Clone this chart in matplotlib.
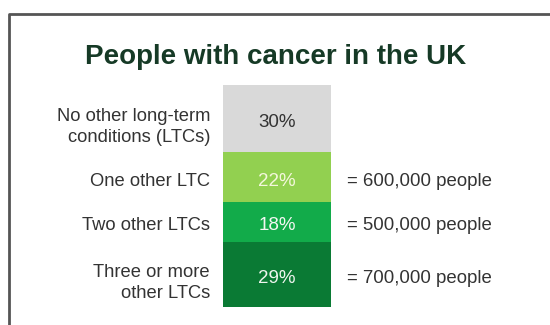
import matplotlib.pyplot as plt
import numpy as np
from matplotlib.transforms import blended_transform_factory, offset_copy

plt.rcParams['font.family'] = ['Liberation Sans', 'DejaVu Sans']

# share of people with cancer by number of other long-term conditions
categories = ['No other long-term\nconditions (LTCs)', 'One other LTC',
              'Two other LTCs', 'Three or more\nother LTCs']
shares = [30, 22, 18, 29]
people = ['', '= 600,000 people', '= 500,000 people', '= 700,000 people']
colors = ['#d9d9d9', '#92d050', '#12ab4a', '#0a7a34']
pct_colors = ['#333333', '#f4f7dc', '#f2f7f2', '#eef5ee']

fig = plt.figure(figsize=(5.5, 3.25), dpi=100)

# frame line along top and left edge
frame = fig.add_axes([0, 0, 1, 1])
frame.set_xlim(0, 550)
frame.set_ylim(325, 0)
frame.axis('off')
frame.plot([9, 9, 560], [330, 14, 14], color='#555555', lw=2, solid_capstyle='butt')

frame.text(276, 57, 'People with cancer in the UK', ha='center', va='center',
           fontsize=20, fontweight='bold', color='#163a26')

# single stacked column
ax = fig.add_axes([223 / 550, (325 - 307) / 325, 108 / 550, 222 / 325])
bottoms = np.concatenate([[0], np.cumsum(shares)[:-1]])
ax.bar(0, shares, bottom=bottoms, width=1.0, color=colors, linewidth=0)
ax.set_xlim(-0.5, 0.5)
ax.set_ylim(sum(shares), 0)
ax.axis('off')

base = blended_transform_factory(ax.transAxes, ax.transData)
trans = offset_copy(base, fig=fig, y=-3, units='points')
trans2 = offset_copy(base, fig=fig, y=-6, units='points')
for cat, val, bot, ppl, tc in zip(categories, shares, bottoms, people, pct_colors):
    mid = bot + val / 2
    ax.text(0.5, mid, f'{val}%', transform=trans, ha='center', va='center',
            fontsize=13.5, color=tc)
    ax.text(-0.12, mid, cat, transform=trans2 if '\n' in cat else trans,
            ha='right', va='center', fontsize=13.2, color='#333333',
            linespacing=1.35, multialignment='right')
    if ppl:
        ax.text(1.15, mid, ppl, transform=trans, ha='left', va='center',
                fontsize=13.4, color='#333333')

plt.savefig('out.png', dpi=100)
